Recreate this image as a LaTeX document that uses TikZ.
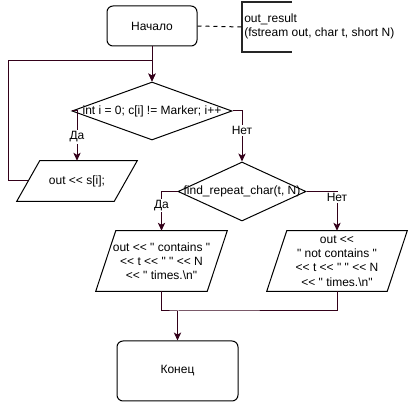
\documentclass[tikz,border=0pt]{standalone}
\usepackage{fontspec}
\setmainfont{Liberation Sans}[Ligatures=TeXOff]
\usetikzlibrary{shapes.geometric,arrows.meta}
\definecolor{edgecol}{RGB}{51,0,25}
\newcommand{\parashape}[2]{\draw[base] ([xshift=#2]#1.north west) -- ([xshift=#2]#1.north east) -- ([xshift=-#2]#1.south east) -- ([xshift=-#2]#1.south west) -- cycle;}
\begin{document}
\begin{tikzpicture}[x=0.75pt,y=-0.75pt,
  every node/.style={font=\fontsize{9}{10.6}\selectfont, inner sep=0pt},
  base/.style={draw=black, line width=0.75pt},
  term/.style={base, rounded corners=4.5pt},
  cond/.style={base, diamond, aspect=2},
  para/.style={align=center},
  edge/.style={draw=edgecol, line width=0.75pt, -{Stealth[length=6pt,width=5.5pt,inset=1.6pt]}},
  lbl/.style={fill=white, inner sep=1pt}]
\useasboundingbox (0,0) rectangle (408,402);
% nodes
\node[term, minimum width=67.5pt, minimum height=30pt] (start) at (152,26) {Начало};
\node[cond, minimum width=120pt, minimum height=43.5pt] (d1) at (152,111) {};
\node (d1t) at (d1.center) {int i = 0; c[i] != Marker; i++};
\node[para, minimum width=72.75pt, minimum height=30pt] (p1) at (77,181) {out << s[i];};
\parashape{p1}{8.6pt}
\node[cond, minimum width=96pt, minimum height=44.25pt] (d2) at (242,191.5) {};
\node (d2t) at (d2.center) {find\_repeat\_char(t, N)};
\node[para, minimum width=83.25pt, minimum height=45pt] (p2) at (161.5,261) {out << " contains "\\ << t << " " << N\\ << " times.\textbackslash n"};
\parashape{p2}{7.5pt}
\node[para, minimum width=90pt, minimum height=45pt] (p3) at (337,261) {out <<\\ " not contains "\\ << t << " " << N\\ << " times.\textbackslash n"};
\parashape{p3}{7.5pt}
\node[term, minimum width=90.75pt, minimum height=45pt] (end) at (177.5,371) {Конец};
% annotation
\coordinate (br) at (242,27);
\node[anchor=west, align=left] (ann) at (244,26) {out\_result\\(fstream out, char t, short N)};
\draw[line width=1.1pt, draw=black!85] ([shift={(50,-25)}]br) -- ([shift={(0,-25)}]br) -- ([shift={(0,25)}]br) -- ([shift={(50,25)}]br);
\draw[dashed, line width=0.75pt] (start.east) -- (br);
% connectors
\draw[edge] (start) -- (d1);
\coordinate (lp) at (8,61);
\draw[edge] (p1.west) -| (lp) -| (d1.north);
\draw[edge] (d1.west) -| node[lbl, pos=0.76] {Да} (p1.north);
\draw[edge] (d1.east) -| node[lbl, pos=0.69] {Нет} (d2.north);
\draw[edge] (d2.west) -| node[lbl, pos=0.68] {Да} (p2.north);
\draw[edge] (d2.east) -| node[lbl, pos=0.58] {Нет} (p3.north);
\coordinate (m) at (177.5,311);
\draw[draw=edgecol, line width=0.75pt] (p2.south) |- (m) -| (p3.south);
\draw[edge] (m) -- (end.north);
\end{tikzpicture}
\end{document}
